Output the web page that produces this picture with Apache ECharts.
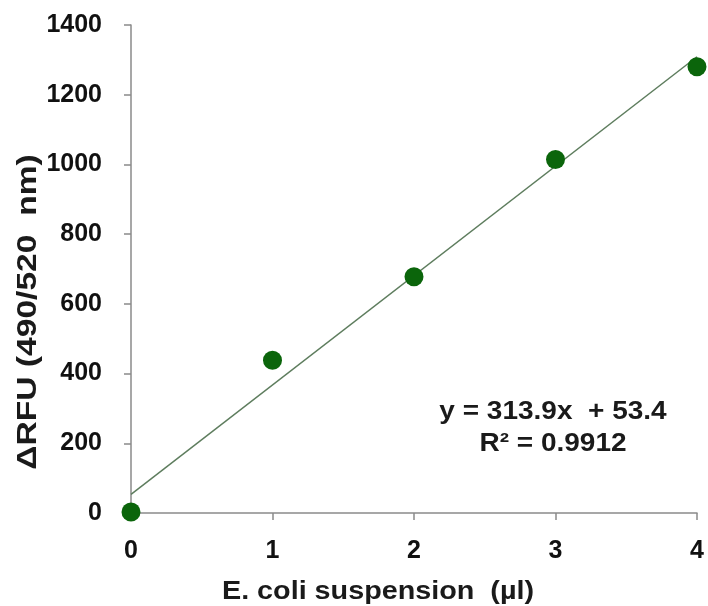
<!DOCTYPE html>
<html>
<head>
<meta charset="utf-8">
<script src="https://cdn.jsdelivr.net/npm/echarts@6/dist/echarts.min.js"></script>
<style>
html,body{margin:0;padding:0;background:#fff;}
#chart{width:708px;height:606px;}
</style>
</head>
<body>
<div id="chart"></div>
<script>
var xValues = [0, 1, 2, 3, 4];
var yValues = [3, 438, 678, 1014, 1280];
var trendX = [0, 4];
var trendY = [53.4, 1309];
var xTicks = ['0', '1', '2', '3', '4'];
var yTicks = ['0', '200', '400', '600', '800', '1000', '1200', '1400'];
var xAxisTitle = 'E. coli suspension  (\u00B5l)';
var yAxisTitle = '\u0394RFU (490/520  nm)';
var equationText = 'y = 313.9x  + 53.4';
var r2Text = 'R\u00B2 = 0.9912';

var FONT = '"Liberation Sans", Arial, sans-serif';
var chart = echarts.init(document.getElementById('chart'));
chart.setOption({
  animation: false,
  backgroundColor: '#ffffff',
  grid: {left: 131, right: 11, top: 25, bottom: 93, containLabel: false},
  xAxis: {
    type: 'value', min: 0, max: 4, interval: 1,
    axisLine: {show: true, lineStyle: {color: '#8a8a8a', width: 1.5}},
    axisTick: {show: true, inside: false, length: 7, lineStyle: {color: '#8a8a8a', width: 1.5}},
    splitLine: {show: false},
    axisLabel: {margin: 26, fontFamily: FONT, fontWeight: 'bold', fontSize: 25, color: '#111',
      formatter: function (v) { return xTicks[v]; }}
  },
  yAxis: {
    type: 'value', min: 0, max: 1400, interval: 200,
    axisLine: {show: true, lineStyle: {color: '#8a8a8a', width: 1.5}},
    axisTick: {show: true, inside: false, length: 7, lineStyle: {color: '#8a8a8a', width: 1.5}},
    splitLine: {show: false},
    axisLabel: {margin: 29, fontFamily: FONT, fontWeight: 'bold', fontSize: 25, color: '#111',
      formatter: function (v) { return yTicks[v / 200]; }}
  },
  series: [
    {
      type: 'line',
      data: trendX.map(function (x, i) { return [x, trendY[i]]; }),
      showSymbol: false, symbol: 'none',
      lineStyle: {color: '#5e7d5e', width: 1.5},
      z: 2
    },
    {
      type: 'scatter',
      data: xValues.map(function (x, i) { return [x, yValues[i]]; }),
      symbol: 'circle', symbolSize: 19,
      itemStyle: {color: '#0b650b', opacity: 1},
      z: 3
    }
  ],
  graphic: [
    {type: 'text', x: 378, y: 592, scaleX: 1.15,
     style: {text: xAxisTitle, fontFamily: FONT, fontWeight: 'bold', fontSize: 25, fill: '#1a1a1a',
       textAlign: 'center', textVerticalAlign: 'middle'}},
    {type: 'text', x: 28, y: 312, rotation: Math.PI / 2, scaleX: 1.2,
     style: {text: yAxisTitle, fontFamily: FONT, fontWeight: 'bold', fontSize: 28, fill: '#1a1a1a',
       textAlign: 'center', textVerticalAlign: 'middle'}},
    {type: 'text', x: 553, y: 412, scaleX: 1.12,
     style: {text: equationText, fontFamily: FONT, fontWeight: 'bold', fontSize: 25, fill: '#1a1a1a',
       textAlign: 'center', textVerticalAlign: 'middle'}},
    {type: 'text', x: 553, y: 444, scaleX: 1.12,
     style: {text: r2Text, fontFamily: FONT, fontWeight: 'bold', fontSize: 25, fill: '#1a1a1a',
       textAlign: 'center', textVerticalAlign: 'middle'}}
  ]
});
</script>
</body>
</html>
